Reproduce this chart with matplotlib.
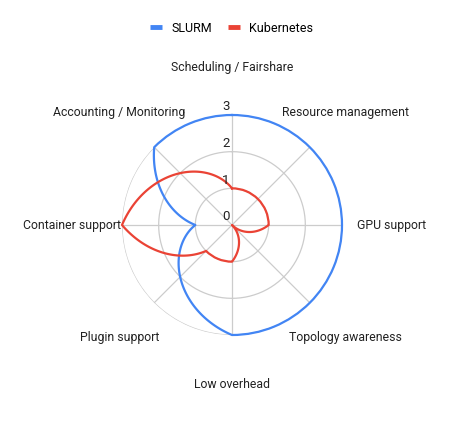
import numpy as np
import matplotlib.pyplot as plt
from matplotlib.lines import Line2D

plt.rcParams['font.family'] = ['Roboto', 'DejaVu Sans']

# Datos del gráfico
categories = ['Scheduling / Fairshare', 'Resource management', 'GPU support',
              'Topology awareness', 'Low overhead', 'Plugin support',
              'Container support', 'Accounting / Monitoring']
slurm = [3, 3, 3, 3, 3, 2, 1, 3]
kubernetes = [1, 1, 1, 0, 1, 1, 3, 2]
series_names = ['SLURM', 'Kubernetes']
radial_ticks = [0, 1, 2, 3]

colors = ['#4285F4', '#EA4335']

n = len(categories)
theta = np.arange(n) * 2 * np.pi / n

W, H = 463, 421
fig = plt.figure(figsize=(W / 100, H / 100), dpi=100)
cx, cy, R = 232, 225, 110
ax = fig.add_axes([(cx - R) / W, (H - cy - R) / H, 2 * R / W, 2 * R / H], projection='polar')
ax.set_theta_zero_location('N')
ax.set_theta_direction(-1)
ax.set_ylim(0, 3)
ax.spines['polar'].set_visible(False)
ax.set_xticks([])
ax.set_yticks([])
ax.grid(False)
ax.set_facecolor('none')

# Rejilla circular y radios
circ = np.linspace(0, 2 * np.pi, 400)
for r in radial_ticks[1:]:
    ax.plot(circ, np.full_like(circ, r), color='#cccccc', lw=0.9, zorder=1)
for t in theta:
    ax.plot([t, t], [0, 3], color='#cccccc', lw=0.9, zorder=1)

# Series (segmentos interpolados en coordenadas polares, como en el original)
for vals, name, c in zip([slurm, kubernetes], series_names, colors):
    tt = np.append(theta, theta[0] + 2 * np.pi)
    vv = np.append(vals, vals[0])
    line, = ax.plot(tt, vv, color=c, lw=1.6, zorder=3, clip_on=False)
    line.get_path()._interpolation_steps = 60

# Etiquetas de categorías
offsets = [(0, 48, 'center'), (36, 35, 'center'), (15, 0, 'left'),
           (36, -35, 'center'), (0, -49, 'center'), (-35, -35, 'center'),
           (-1, 0, 'right'), (-35, 35, 'center')]
for t, lab, (dx, dy, ha) in zip(theta, categories, offsets):
    ax.annotate(lab, (t, 3), xytext=(dx, dy), textcoords='offset pixels',
                ha=ha, va='center', fontsize=8.8, color='#222222', annotation_clip=False)

# Etiquetas radiales
for r in radial_ticks:
    ax.annotate(str(r), (0, r), xytext=(-6, 8), textcoords='offset pixels',
                ha='center', va='center', fontsize=9.5, color='#222222', zorder=4)

# Leyenda
handles = [Line2D([], [], color=c, lw=3.5, solid_capstyle='butt') for c in colors]
fig.legend(handles, series_names, loc='center', bbox_to_anchor=(0.5, 1 - 28 / H),
           ncol=2, frameon=False, fontsize=9, handlelength=1.0, handletextpad=0.7,
           columnspacing=1.3)

fig.savefig('out.png', dpi=100)
